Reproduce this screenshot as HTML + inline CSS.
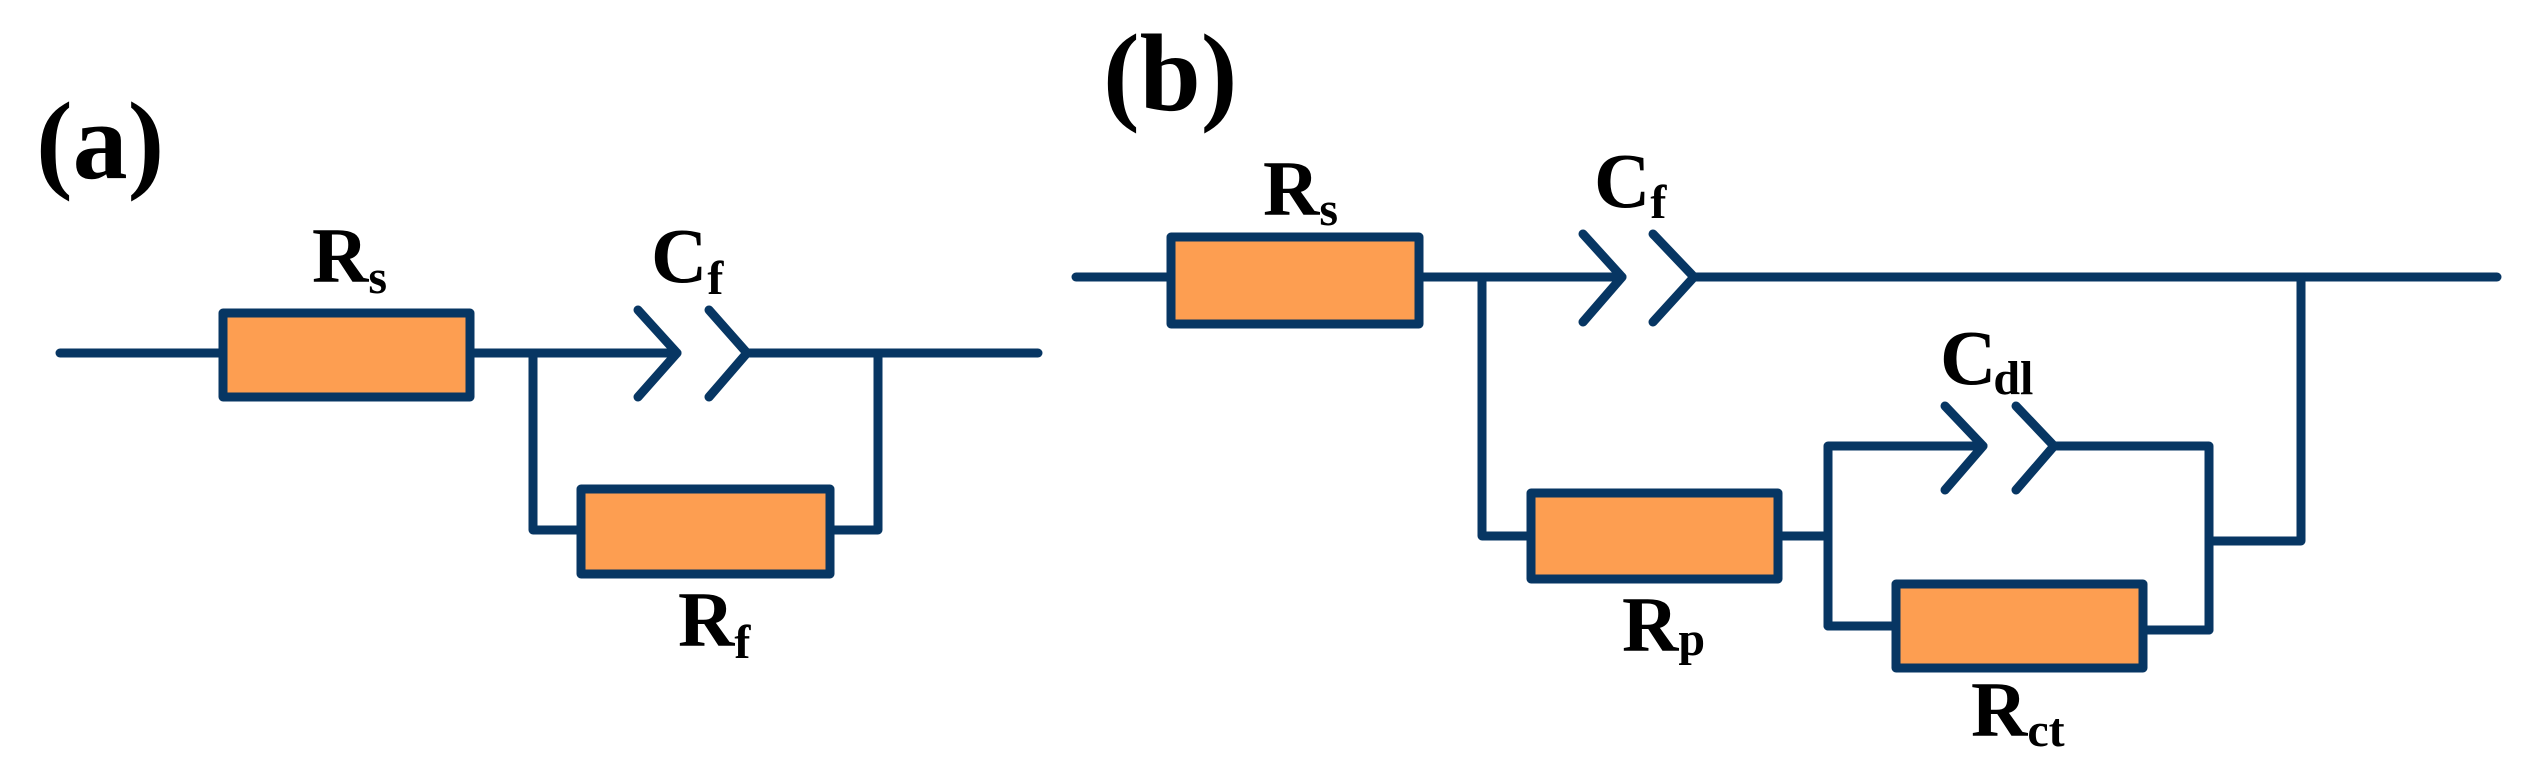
<!DOCTYPE html>
<html><head><meta charset="utf-8"><style>
html,body{margin:0;padding:0;background:#fff;}
svg{display:block;}
text{font-family:"Liberation Serif",serif;font-weight:bold;fill:#000;}
</style></head><body>
<svg width="2528" height="782" viewBox="0 0 2528 782" xmlns="http://www.w3.org/2000/svg">
<g stroke="#073663" stroke-width="9" fill="none" stroke-linecap="round" stroke-linejoin="round">
<!-- (a) -->
<line x1="60" y1="353" x2="677" y2="353"/>
<line x1="747" y1="353" x2="1038" y2="353"/>
<polyline points="638,310 677,353 638,397"/>
<polyline points="709,310 747,353 709,397"/>
<polyline points="533,353 533,530 830,530"/>
<polyline points="830,530 878,530 878,353"/>
<rect x="223" y="313" width="247" height="84" fill="#fd9e51"/>
<rect x="581" y="489" width="249" height="85" fill="#fd9e51"/>
<!-- (b) -->
<line x1="1076" y1="277" x2="1622" y2="277"/>
<line x1="1694" y1="277" x2="2497" y2="277"/>
<polyline points="1583,234 1622,277 1583,322"/>
<polyline points="1653,234 1694,277 1653,322"/>
<polyline points="1482,277 1482,536 1531,536"/>
<line x1="1778" y1="536" x2="1828" y2="536"/>
<polyline points="1828,626 1828,446 1983,446"/>
<polyline points="2054,446 2209,446 2209,630"/>
<polyline points="1945,406 1983,446 1945,490"/>
<polyline points="2016,406 2054,446 2016,490"/>
<line x1="1828" y1="626" x2="1896" y2="626"/>
<line x1="2143" y1="630" x2="2209" y2="630"/>
<polyline points="2209,541 2301,541 2301,277"/>
<rect x="1171" y="237" width="248" height="87" fill="#fd9e51"/>
<rect x="1531" y="493" width="247" height="86" fill="#fd9e51"/>
<rect x="1896" y="584" width="247" height="84" fill="#fd9e51"/>
</g>
<!-- labels -->
<text x="36" y="178" font-size="110">(a)</text>
<text x="1103" y="110" font-size="110">(b)</text>

<text x="312" y="282" font-size="78">R<tspan font-size="48" dy="11">s</tspan></text>
<text x="651" y="282" font-size="78">C<tspan font-size="48" dy="12">f</tspan></text>
<text x="678" y="646" font-size="78">R<tspan font-size="48" dy="12">f</tspan></text>

<text x="1263" y="215" font-size="78">R<tspan font-size="48" dy="10">s</tspan></text>
<text x="1594" y="207" font-size="78">C<tspan font-size="48" dy="11">f</tspan></text>
<text x="1940" y="384" font-size="78">C<tspan font-size="48" dy="10" dx="-3">dl</tspan></text>
<text x="1622" y="651" font-size="78">R<tspan font-size="48" dy="4">p</tspan></text>
<text x="1971" y="736" font-size="78">R<tspan font-size="48" dy="10">ct</tspan></text>
</svg>
</body></html>
